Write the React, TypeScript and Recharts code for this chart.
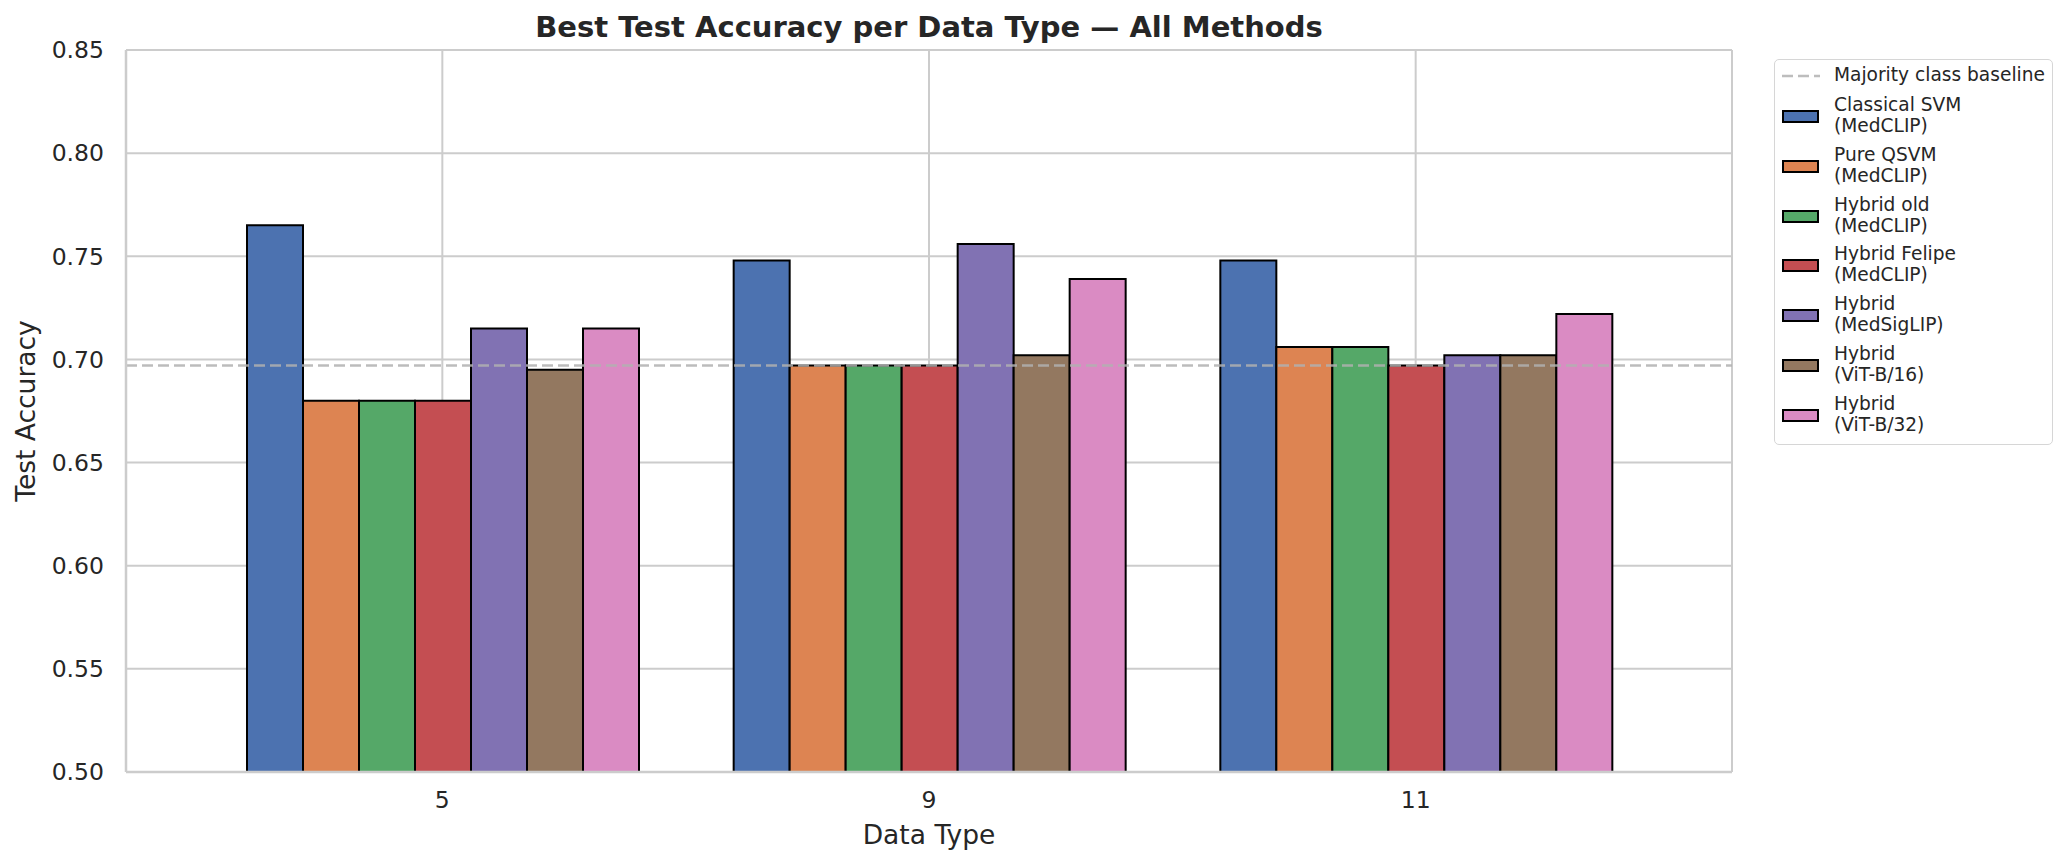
import {
  Bar,
  BarChart,
  CartesianGrid,
  Label,
  ReferenceLine,
  XAxis,
  YAxis,
} from 'recharts';

const dataTypes = ['5', '9', '11'];

const classicalSvm = [0.765, 0.748, 0.748];
const pureQsvm = [0.68, 0.697, 0.706];
const hybridOld = [0.68, 0.697, 0.706];
const hybridFelipe = [0.68, 0.697, 0.697];
const hybridMedSigLip = [0.715, 0.756, 0.702];
const hybridVitB16 = [0.695, 0.702, 0.702];
const hybridVitB32 = [0.715, 0.739, 0.722];

const majorityBaseline = 0.697;

const yTicks = [0.5, 0.55, 0.6, 0.65, 0.7, 0.75, 0.8, 0.85];

const methods = [
  { key: 'svm', label: ['Classical SVM', '(MedCLIP)'], values: classicalSvm, color: '#4C72B0' },
  { key: 'qsvm', label: ['Pure QSVM', '(MedCLIP)'], values: pureQsvm, color: '#DD8452' },
  { key: 'old', label: ['Hybrid old', '(MedCLIP)'], values: hybridOld, color: '#55A868' },
  { key: 'felipe', label: ['Hybrid Felipe', '(MedCLIP)'], values: hybridFelipe, color: '#C44E52' },
  { key: 'sig', label: ['Hybrid', '(MedSigLIP)'], values: hybridMedSigLip, color: '#8172B3' },
  { key: 'b16', label: ['Hybrid', '(ViT-B/16)'], values: hybridVitB16, color: '#937860' },
  { key: 'b32', label: ['Hybrid', '(ViT-B/32)'], values: hybridVitB32, color: '#DA8BC3' },
];

const chartData = dataTypes.map((type, i) => {
  const row: Record<string, string | number> = { type };
  methods.forEach((m) => {
    row[m.key] = m.values[i];
  });
  return row;
});

const FONT = '"DejaVu Sans", sans-serif';
const TEXT = '#262626';
const GRID = '#cccccc';

function LegendBox() {
  return (
    <div
      style={{
        position: 'absolute',
        left: 1774,
        top: 59,
        width: 279,
        height: 386,
        border: '1.5px solid #d6d6d6',
        borderRadius: 5,
        background: '#fff',
        boxSizing: 'border-box',
        fontFamily: FONT,
        fontSize: 18.6,
        color: TEXT,
      }}
    >
      <svg style={{ position: 'absolute', left: 7, top: 13 }} width={40} height={6}>
        <line x1={0} y1={3} x2={38} y2={3} stroke="#bdbdbd" strokeWidth={2.5} strokeDasharray="11 5" />
      </svg>
      <div style={{ position: 'absolute', left: 59, top: 4, lineHeight: '21px', whiteSpace: 'nowrap' }}>
        Majority class baseline
      </div>
      {methods.map((m, i) => {
        const cy = 57 + i * 49.8;
        return (
          <div key={m.key}>
            <div
              style={{
                position: 'absolute',
                left: 7,
                top: cy - 7,
                width: 37,
                height: 13,
                background: m.color,
                border: '2px solid #000',
                boxSizing: 'border-box',
              }}
            />
            <div
              style={{
                position: 'absolute',
                left: 59,
                top: cy - 23,
                lineHeight: '21px',
                whiteSpace: 'nowrap',
              }}
            >
              {m.label[0]}
              <br />
              {m.label[1]}
            </div>
          </div>
        );
      })}
    </div>
  );
}

export default function App() {
  return (
    <div
      style={{
        position: 'absolute',
        left: 0,
        top: 0,
        width: 2069,
        height: 866,
        background: '#fff',
        fontFamily: FONT,
      }}
    >
      <BarChart
        width={2069}
        height={866}
        data={chartData}
        margin={{ top: 50, right: 337, bottom: 0, left: 0 }}
        barCategoryGap={48}
        barGap={0}
      >
        <CartesianGrid stroke={GRID} strokeWidth={2} />
        <XAxis
          dataKey="type"
          height={94}
          padding={{ left: 73, right: 73 }}
          tickSize={0}
          tickMargin={19}
          tick={{ fill: TEXT, fontSize: 23.5, fontFamily: FONT }}
          axisLine={{ stroke: GRID, strokeWidth: 2.5 }}
        >
          <Label
            content={({ viewBox }: any) => (
              <text
                x={viewBox.x + viewBox.width / 2}
                y={viewBox.y + 72}
                textAnchor="middle"
                fill={TEXT}
                fontSize={26.5}
                fontFamily={FONT}
              >
                Data Type
              </text>
            )}
          />
        </XAxis>
        <XAxis
          xAxisId="top"
          orientation="top"
          dataKey="type"
          height={0}
          tick={false}
          tickLine={false}
          axisLine={{ stroke: GRID, strokeWidth: 2.5 }}
        />
        <YAxis
          width={126}
          domain={[0.5, 0.85]}
          ticks={yTicks}
          allowDataOverflow
          tickFormatter={(v: number) => v.toFixed(2)}
          tickSize={0}
          tickMargin={22}
          tick={{ fill: TEXT, fontSize: 23.5, fontFamily: FONT }}
          axisLine={{ stroke: GRID, strokeWidth: 2.5 }}
        >
          <Label
            content={({ viewBox }: any) => {
              const cy = viewBox.y + viewBox.height / 2;
              return (
                <text
                  x={35}
                  y={cy}
                  transform={`rotate(-90 35 ${cy})`}
                  textAnchor="middle"
                  fill={TEXT}
                  fontSize={26.5}
                  fontFamily={FONT}
                >
                  Test Accuracy
                </text>
              );
            }}
          />
        </YAxis>
        <YAxis
          yAxisId="right"
          orientation="right"
          width={0}
          domain={[0.5, 0.85]}
          tick={false}
          tickLine={false}
          axisLine={{ stroke: GRID, strokeWidth: 2.5 }}
        />
        {methods.map((m) => (
          <Bar
            key={m.key}
            dataKey={m.key}
            name={m.label.join(' ')}
            fill={m.color}
            stroke="#000"
            strokeWidth={2}
            isAnimationActive={false}
          />
        ))}
        <ReferenceLine
          y={majorityBaseline}
          stroke="#b0b0b0"
          strokeOpacity={0.85}
          strokeWidth={2.5}
          strokeDasharray="11 5"
        />
      </BarChart>
      <LegendBox />
      <svg
        style={{ position: 'absolute', left: 0, top: 0, pointerEvents: 'none' }}
        width={2069}
        height={50}
      >
        <text
          x={929}
          y={37}
          textAnchor="middle"
          fill={TEXT}
          fontSize={29}
          fontWeight="bold"
          fontFamily={FONT}
        >
          Best Test Accuracy per Data Type — All Methods
        </text>
      </svg>
    </div>
  );
}
